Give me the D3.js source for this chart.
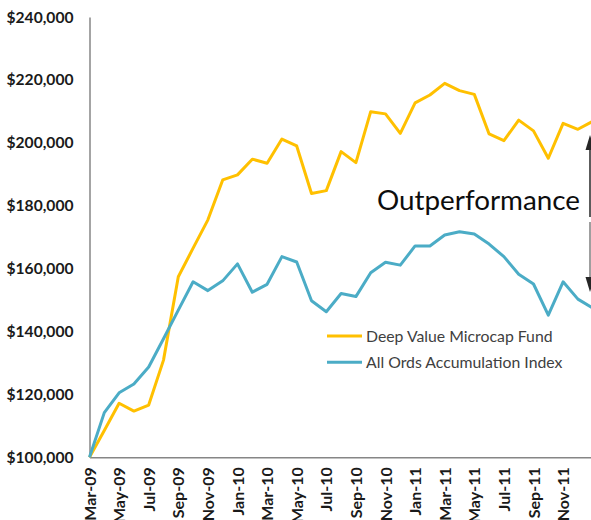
<!DOCTYPE html>
<html>
<head>
<meta charset="utf-8">
<script src="https://cdn.jsdelivr.net/npm/d3@7"></script>
<style>
  html, body { margin: 0; padding: 0; background: #fff; }
  svg { display: block; }
</style>
</head>
<body>
<svg id="chart" width="591" height="520"></svg>
<script>
// ---- Data ----
const months = ["Mar-09","Apr-09","May-09","Jun-09","Jul-09","Aug-09","Sep-09","Oct-09","Nov-09","Dec-09",
  "Jan-10","Feb-10","Mar-10","Apr-10","May-10","Jun-10","Jul-10","Aug-10","Sep-10","Oct-10","Nov-10","Dec-10",
  "Jan-11","Feb-11","Mar-11","Apr-11","May-11","Jun-11","Jul-11","Aug-11","Sep-11","Oct-11","Nov-11","Dec-11","Jan-12"];

const fundValues = [100000,108500,117200,114700,116600,130900,157400,166500,175500,188200,
  189800,194800,193500,201200,199000,183900,184800,197200,193700,209900,209200,203000,
  212700,215200,218900,216600,215400,202800,200700,207200,203800,195100,206200,204300,206800];

const indexValues = [100000,114200,120500,123300,128700,137700,146800,155800,153000,156100,
  161500,152500,155000,163800,162100,149800,146300,152100,151100,158700,162000,161100,
  167200,167200,170700,171700,171000,167800,163800,158200,155100,145200,155800,150300,147500];

const seriesNames = ["Deep Value Microcap Fund", "All Ords Accumulation Index"];
const seriesColors = ["#FFC000", "#4BACC6"];

const tickLabels = ["Mar-09","May-09","Jul-09","Sep-09","Nov-09","Jan-10","Mar-10","May-10","Jul-10",
  "Sep-10","Nov-10","Jan-11","Mar-11","May-11","Jul-11","Sep-11","Nov-11"];
const yTicks = [100000,120000,140000,160000,180000,200000,220000,240000];

const annotationText = "Outperformance";

// ---- Drawing ----
const svg = d3.select("#chart");
const font = "Lato, 'Open Sans', sans-serif";

const x = d3.scalePoint().domain(months).range([89.5, 89.5 + 34 * 14.8]);
const y = d3.scaleLinear().domain([100000, 240000]).range([457.3, 17]);

// Y axis
const yAxis = svg.append("g")
  .attr("transform", "translate(89.5,0)")
  .call(d3.axisLeft(y).tickValues(yTicks).tickSize(0).tickPadding(16).tickFormat(d3.format("$,")));
yAxis.select(".domain").attr("stroke", "#868686").attr("stroke-width", 1.5);
yAxis.selectAll("text")
  .attr("font-family", font).attr("font-size", 15.6).attr("font-weight", "bold").attr("fill", "#1a1a1a");

// X axis
const xAxis = svg.append("g")
  .attr("transform", "translate(0,457.3)")
  .call(d3.axisBottom(x).tickValues(tickLabels).tickSize(0));
xAxis.select(".domain").attr("stroke", "#868686").attr("stroke-width", 1.5);
xAxis.selectAll("text")
  .attr("font-family", font).attr("font-size", 16).attr("font-weight", "bold").attr("fill", "#1a1a1a")
  .attr("transform", "rotate(-90)")
  .attr("text-anchor", "end")
  .attr("x", -10).attr("y", 0).attr("dy", "0.35em");

// Lines
const line = d3.line().x((d, i) => x(months[i])).y(d => y(d));
[fundValues, indexValues].forEach((vals, k) => {
  svg.append("path")
    .datum(vals)
    .attr("fill", "none")
    .attr("stroke", seriesColors[k])
    .attr("stroke-width", 3)
    .attr("stroke-linejoin", "round")
    .attr("d", line);
});

// Legend
const legend = svg.append("g").attr("transform", "translate(327,336)");
seriesNames.forEach((name, k) => {
  const g = legend.append("g").attr("transform", `translate(0,${k * 26.3})`);
  g.append("line").attr("x1", 0).attr("x2", 35).attr("y1", 0).attr("y2", 0)
    .attr("stroke", seriesColors[k]).attr("stroke-width", 3);
  g.append("text").attr("x", 39).attr("y", 0).attr("dy", "0.35em")
    .attr("font-family", font).attr("font-size", 15.8).attr("fill", "#404040")
    .text(name);
});

// Outperformance annotation
const ax = 590;
const ann = svg.append("g");
ann.append("line").attr("x1", ax).attr("x2", ax).attr("y1", 148).attr("y2", 217)
  .attr("stroke", "#262626").attr("stroke-width", 1.5);
ann.append("line").attr("x1", ax).attr("x2", ax).attr("y1", 222).attr("y2", 280)
  .attr("stroke", "#7f7f7f").attr("stroke-width", 1.5);
ann.append("path").attr("d", `M${ax},135 L${ax - 4.5},150 L${ax + 4.5},150 Z`).attr("fill", "#262626");
ann.append("path").attr("d", `M${ax},292 L${ax - 4.5},277 L${ax + 4.5},277 Z`).attr("fill", "#262626");
ann.append("text").attr("x", 377).attr("y", 210)
  .attr("font-family", font).attr("font-size", 27.8).attr("fill", "#0d0d0d")
  .text(annotationText);
</script>
</body>
</html>
